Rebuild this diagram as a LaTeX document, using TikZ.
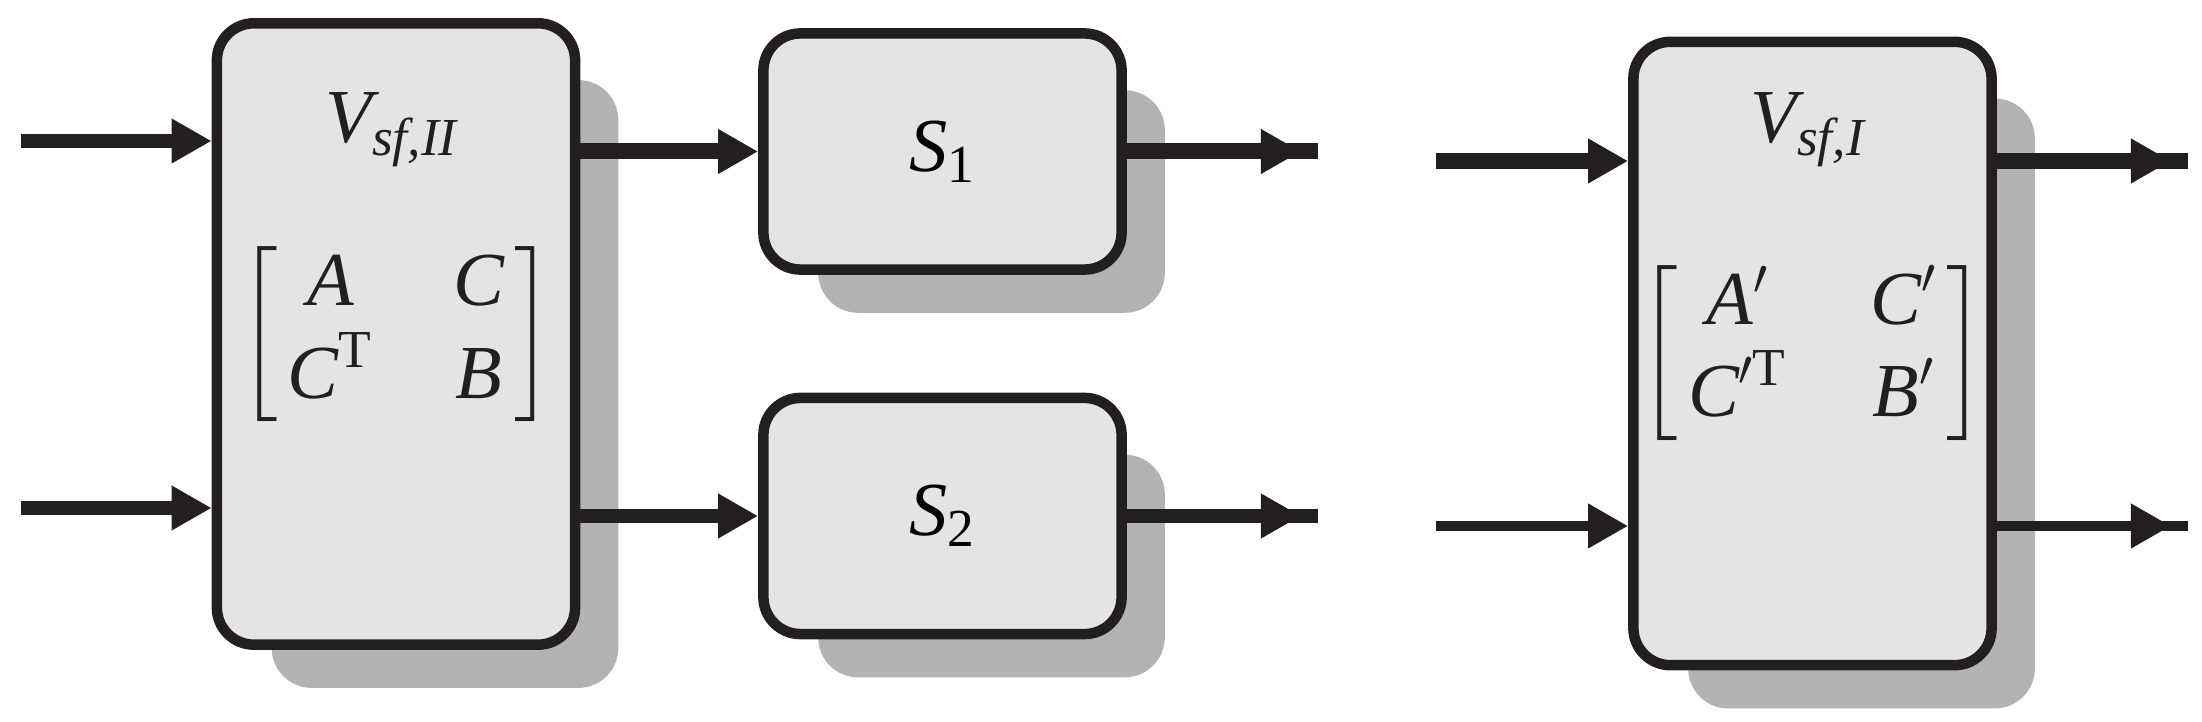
\documentclass[tikz,border=0pt]{standalone}
\usepackage{amsmath}
\usepackage{exscale}
\usepackage{fontspec}
\setmainfont{Liberation Serif}
\usetikzlibrary{arrows.meta,backgrounds,decorations.markings}
\definecolor{boxfill}{HTML}{E4E4E4}
\definecolor{shadowc}{HTML}{B3B3B3}
\definecolor{ink}{HTML}{231F20}
\tikzset{
  blockbox/.style={draw=ink, fill=boxfill, line width=0.105cm, rounded corners=0.37cm,
    minimum width=3.58cm, inner sep=0pt, font=\fontsize{21.7pt}{25.6pt}\selectfont},
  tallbox/.style={blockbox, minimum height=6.21cm},
  smallbox/.style={blockbox, minimum height=2.36cm},
  shadowbox/.style={fill=shadowc, rounded corners=0.4cm},
  txt/.style={inner sep=0pt, text=ink, font=\fontsize{21.7pt}{25.6pt}\selectfont},
  arrowin/.style={draw=ink, -{Triangle[length=0.4cm,width=0.42cm]}},
  arrowout/.style={draw=ink, postaction={decorate}, decoration={markings,
    mark=at position -0.17cm with {\arrow[ink]{Triangle[length=0.4cm,width=0.42cm]}}}},
  wthin/.style={line width=0.10cm},
  wmid/.style={line width=0.135cm},
  wthick/.style={line width=0.16cm},
}
\begin{document}
\begin{tikzpicture}[x=0.01cm, y=-0.01cm]
\useasboundingbox (0,0) rectangle (2202,722);
% blocks
\node[tallbox] (VII) at (396,334) {};
\node[smallbox] (S1) at (942.5,151.5) {$\textit{S}_{\textup{1}}$};
\node[smallbox] (S2) at (942.5,516) {$\textit{S}_{\textup{2}}$};
\node[tallbox, minimum height=6.23cm] (VI) at (1812.5,353.5) {};
% shadows
\begin{scope}[on background layer]
  \foreach \n in {VII,S1,S2,VI}
    \fill[shadowbox] ([shift={(60,62)}]\n.north west) rectangle ([shift={(38,38)}]\n.south east);
\end{scope}
% labels
\node[txt, anchor=base] (lVII) at (392,143) {$\textit{V}_{\textit{sf,II}}$};
\node[txt] (mVII) at (VII.center) {$\left[\begin{array}{@{\hspace{0.1cm}}c@{\hspace{0.8cm}}c@{\hspace{0.1cm}}}\textit{A} & \textit{C}\\ \textit{C}^{\textup{T}} & \textit{B}\end{array}\right]$};
\node[txt, anchor=base] (lVI) at (1808,143) {$\textit{V}_{\textit{sf,I}}$};
\node[txt] (mVI) at (VI.center) {\renewcommand\arraystretch{0.96}$\left[\begin{array}{@{\hspace{0.1cm}}c@{\hspace{0.83cm}}c@{\hspace{0.1cm}}}\textit{A}' & \textit{C}'\\ \textit{C}'^{\textup{T}} & \textit{B}'\end{array}\right]$};
% free ends
\coordinate (in1) at (21,141);
\coordinate (in2) at (21,508);
\coordinate (o1) at (1318,151.5);
\coordinate (o2) at (1318,516);
\coordinate (vin1) at (1436,161);
\coordinate (vin2) at (1436,526);
\coordinate (vout1) at (2188,161);
\coordinate (vout2) at (2188,526);
% connectors
\draw[wmid, arrowin] (in1) -- (in1 -| VII.west);
\draw[wmid, arrowin] (in2) -- (in2 -| VII.west);
\draw[wthick, arrowin] (VII.east |- S1.west) -- (S1.west);
\draw[wmid, arrowin] (VII.east |- S2.west) -- (S2.west);
\draw[wthick, arrowout] (S1.east) -- (o1);
\draw[wmid, arrowout] (S2.east) -- (o2);
\draw[wthick, arrowin] (vin1) -- (vin1 -| VI.west);
\draw[wthin, arrowin] (vin2) -- (vin2 -| VI.west);
\draw[wthick, arrowout] (vin1 -| VI.east) -- (vout1);
\draw[wthin, arrowout] (vin2 -| VI.east) -- (vout2);
\end{tikzpicture}
\end{document}
